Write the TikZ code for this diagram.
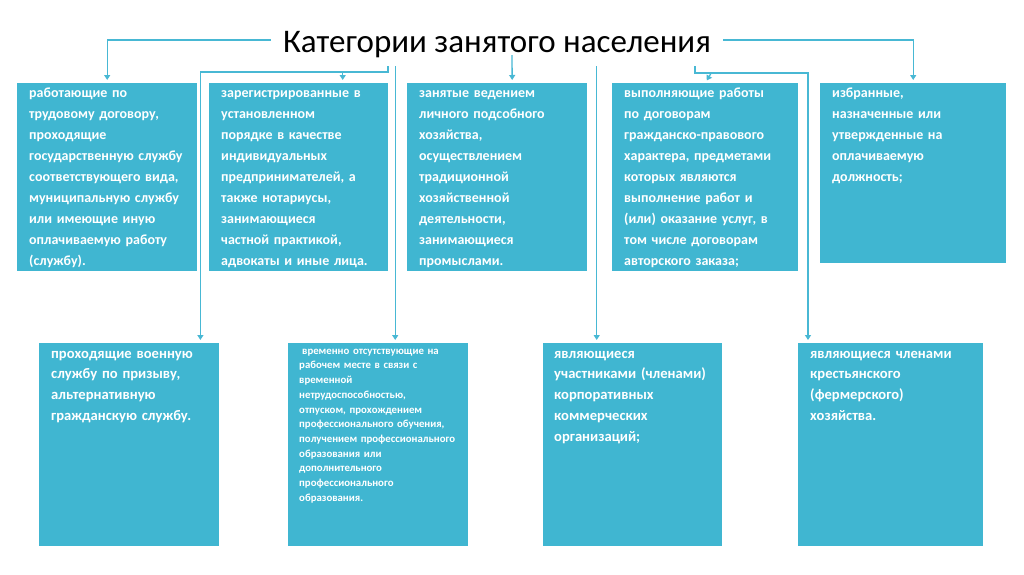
\documentclass[tikz,border=0pt]{standalone}
\usepackage{fontspec}
\setmainfont{Carlito}
\usepackage{xcolor}
\definecolor{boxblue}{RGB}{64,182,209}
\definecolor{lineblue}{RGB}{72,184,212}
\usepackage{tikz}
\usetikzlibrary{arrows.meta, positioning, calc}

\begin{document}
\begin{tikzpicture}[
        x=1pt, y=-1pt,
        box/.style={rectangle, fill=boxblue, text=white, anchor=north west, inner xsep=12pt, inner ysep=4pt, align=left, text width=#1, font=\bfseries\fontsize{14}{21}\selectfont, text height=10pt, text depth=170pt},
        lowbox/.style={box=#1, font=\bfseries\fontsize{14.6}{20.7}\selectfont, text height=11pt, text depth=184pt},
        arrow/.style={-{Triangle[length=5pt, width=6pt]}, line width=1.3pt, draw=lineblue, shorten >=3pt},
        link/.style={line width=1.3pt, draw=lineblue}
    ]
        \fill[white] (0,0) rectangle (1024,574);
        \useasboundingbox (0,0) rectangle (1024,574);

        \node[font=\fontsize{33}{38}\selectfont, inner xsep=12pt, inner ysep=3pt, text height=24pt, text depth=0pt, anchor=base] (title) at (497,52) {Категории занятого населения};

        % upper row
        \node[box=156pt] (b1) at (17,83) {работающие по\\трудовому договору,\\проходящие\\государственную службу\\соответствующего вида,\\муниципальную службу\\или имеющие иную\\оплачиваемую работу\\(службу).};
        \node[box=155pt] (b2) at (209,83) {зарегистрированные в\\установленном\\порядке в качестве\\индивидуальных\\предпринимателей, а\\также нотариусы,\\занимающиеся\\частной практикой,\\адвокаты и иные лица.};
        \node[box=156pt] (b3) at (407,83) {занятые ведением\\личного подсобного\\хозяйства,\\осуществлением\\традиционной\\хозяйственной\\деятельности,\\занимающиеся\\промыслами.};
        \node[box=162pt] (b4) at (612,83) {выполняющие работы\\по договорам\\гражданско-правового\\характера, предметами\\которых являются\\выполнение работ и\\(или) оказание услуг, в\\том числе договорам\\авторского заказа;};
        \node[box=162pt, text depth=162pt] (b5) at (820,83) {избранные,\\назначенные или\\утвержденные на\\оплачиваемую\\должность;};

        % lower row
        \node[lowbox=156pt] (b6) at (39,343) {проходящие военную\\службу по призыву,\\альтернативную\\гражданскую службу.};
        \node[box=158pt, inner xsep=11pt, font=\bfseries\fontsize{10.8}{14.7}\selectfont, text height=7pt, text depth=188pt] (b7) at (288,343) {\hspace{3pt}временно отсутствующие на\\рабочем месте в связи с\\временной\\нетрудоспособностью,\\отпуском, прохождением\\профессионального обучения,\\получением профессионального\\образования или\\дополнительного\\профессионального\\образования.};
        \node[lowbox=157pt, inner xsep=11pt] (b8) at (543,343) {являющиеся\\участниками (членами)\\корпоративных\\коммерческих\\организаций;};
        \node[lowbox=161pt] (b9) at (798,343) {являющиеся членами\\крестьянского\\(фермерского)\\хозяйства.};

        \coordinate (forkL) at (388,66);
        \coordinate (forkR) at (695,66);

        \draw[arrow] (title.west) -| (b1.north);
        \draw[arrow] (title.east) -| (b5.north);
        \draw[arrow] ([xshift=15pt]title.south) -- ([xshift=15pt]b3.north);

        \draw[arrow] (forkL) -- ++(0,6) -| ([xshift=-19pt]b6.north east);
        \draw[arrow] ([xshift=44pt]b2.north) ++(0,-11) -- ([xshift=44pt]b2.north);
        \draw[arrow] ([xshift=17pt]b7.north |- forkL) -- ([xshift=17pt]b7.north);
        \draw[arrow] ([xshift=-36pt]b8.north |- forkL) -- ([xshift=-36pt]b8.north);

        \draw[arrow] (forkR) -- ++(0,7) -| ([xshift=10pt]b9.north west);
        \draw[arrow] ([xshift=6pt]b4.north) ++(0,-10) -- (b4.north);
    \end{tikzpicture}
\end{document}
